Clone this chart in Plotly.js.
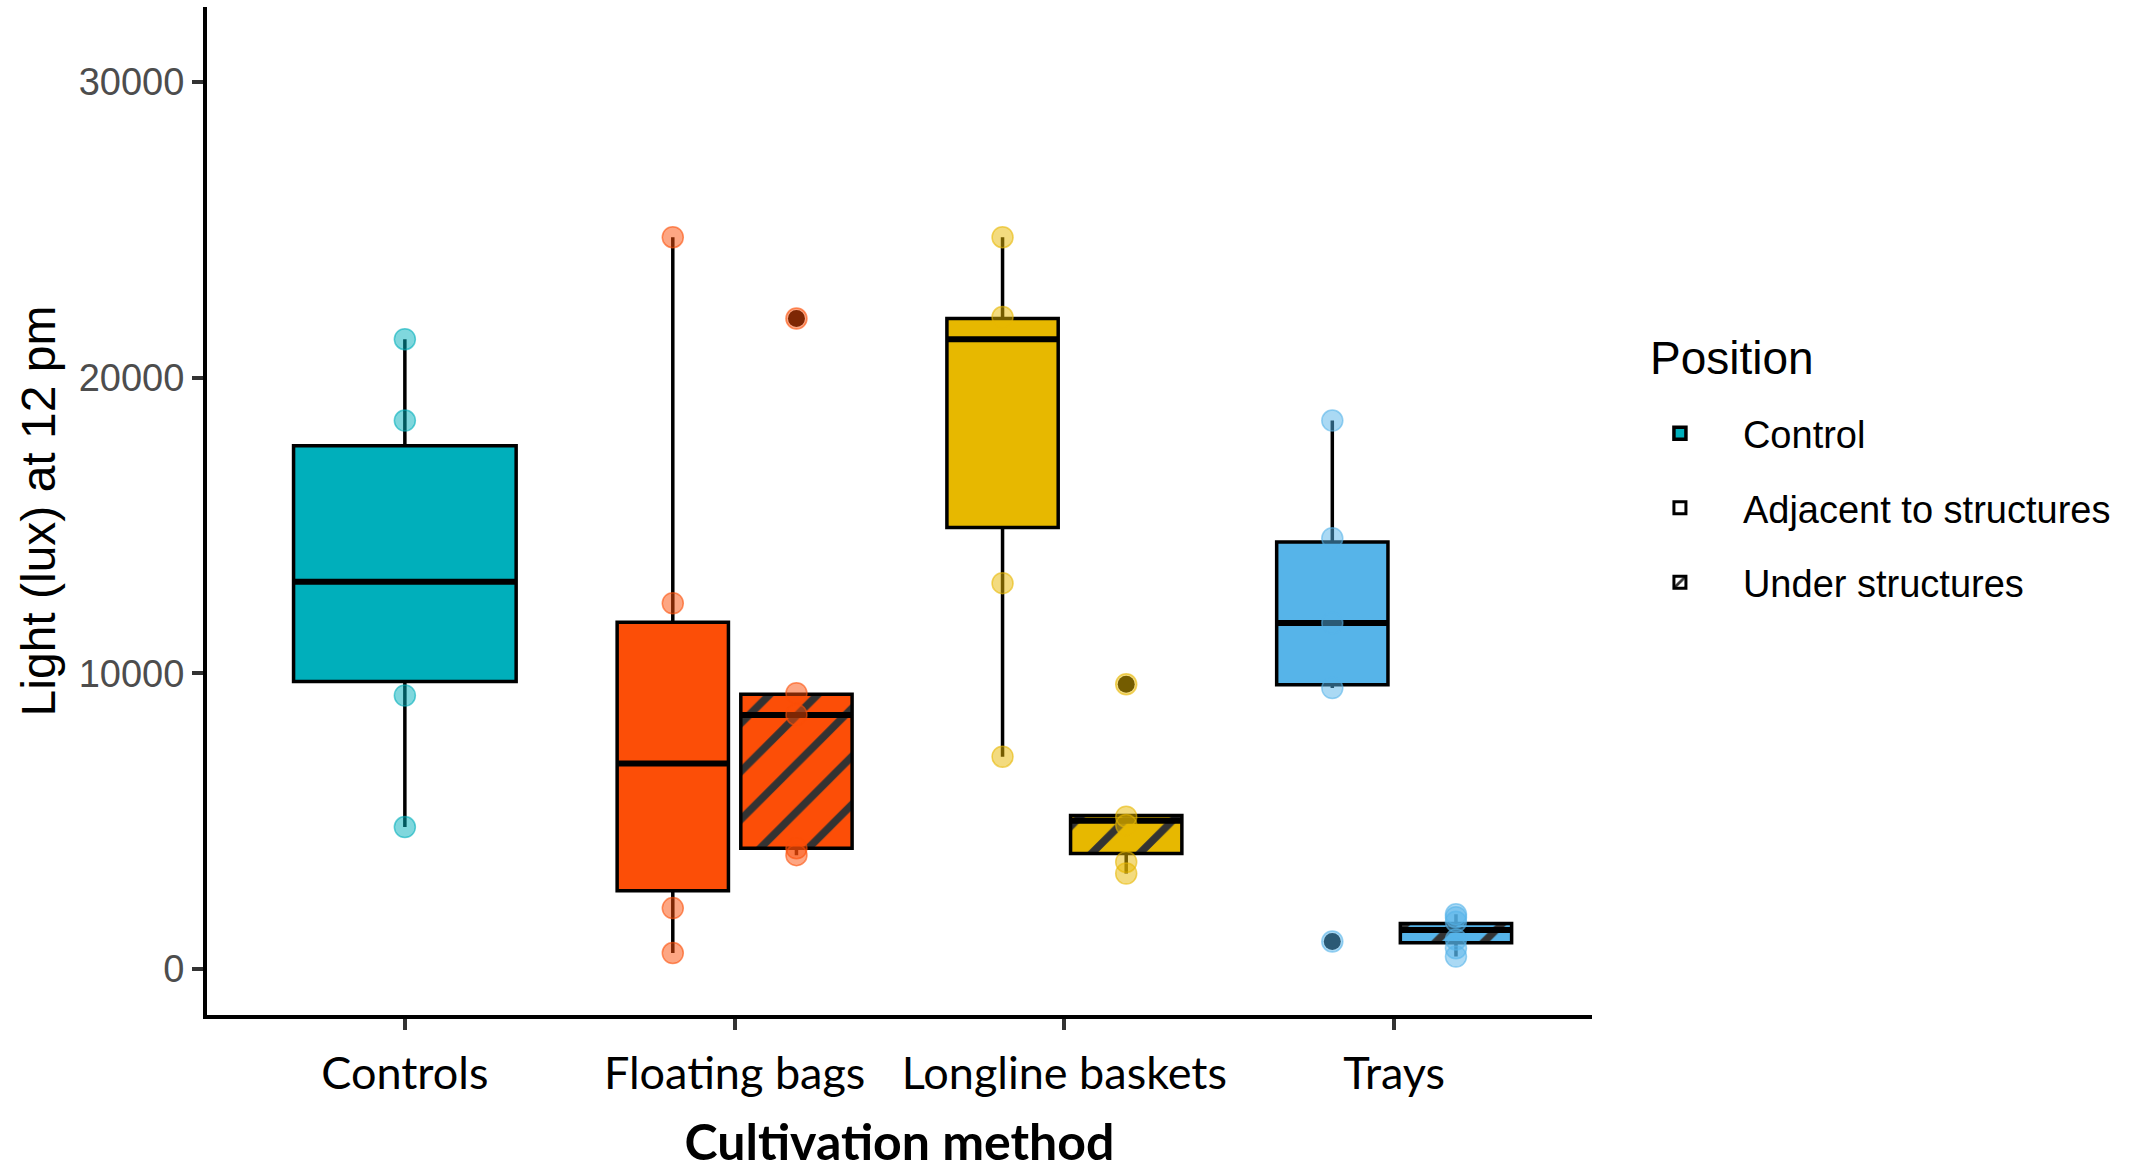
<!DOCTYPE html>
<html><head><meta charset="utf-8">
<script src="https://cdn.plot.ly/plotly-3.0.1.min.js"></script>
<style>html,body{margin:0;padding:0;background:#fff}</style>
</head><body>
<div id="chart" style="width:2143px;height:1171px"></div>
<script>
// ---------------- data ----------------
const categories = ['Controls', 'Floating bags', 'Longline baskets', 'Trays'];
const positions = ['Control', 'Adjacent to structures', 'Under structures'];

const boxCategory = ['Controls', 'Floating bags', 'Floating bags', 'Longline baskets', 'Longline baskets', 'Trays', 'Trays'];
const boxPosition = ['Control', 'Adjacent to structures', 'Under structures', 'Adjacent to structures', 'Under structures', 'Adjacent to structures', 'Under structures'];
const lowerWhisker  = [4800,   540, 3850,  7180, 3230,  9500,  420];
const lowerQuartile = [9720,  2650, 4080, 14930, 3910,  9610,  890];
const medianValue   = [13100, 6950, 8590, 21300, 5010, 11700, 1320];
const upperQuartile = [17700, 11730, 9290, 22000, 5190, 14440, 1540];
const upperWhisker  = [21300, 24750, 9330, 24750, 5190, 18550, 1850];

const pointValues = [
  [21300, 18550, 9250, 4800],
  [24750, 12370, 2060, 540],
  [22000, 9330, 8600, 4080, 3850],
  [24750, 22050, 13050, 7180],
  [9630, 5150, 4870, 3620, 3230],
  [18550, 14570, 11700, 9500, 930],
  [1850, 1750, 1600, 1000, 700, 420]
];

const outlierCategory = ['Floating bags', 'Longline baskets', 'Trays'];
const outlierPosition = ['Under structures', 'Under structures', 'Adjacent to structures'];
const outlierValue = [22000, 9630, 930];

const yTickValues = [0, 10000, 20000, 30000];

// ---------------- styles ----------------
const categoryColor = {
  'Controls': '#00AFBB',
  'Floating bags': '#FC4E07',
  'Longline baskets': '#E7B800',
  'Trays': '#56B4E9'
};
function hexA(hex, a) {
  const r = parseInt(hex.slice(1, 3), 16), g = parseInt(hex.slice(3, 5), 16), b = parseInt(hex.slice(5, 7), 16);
  return 'rgba(' + r + ',' + g + ',' + b + ',' + a + ')';
}
const dodgeWidth = 0.75, boxFrac = 0.9;
function xPos(cat, pos) {
  const i = categories.indexOf(cat);
  if (pos === positions[0]) return i;
  return i + (pos === positions[1] ? -dodgeWidth / 4 : dodgeWidth / 4);
}
function boxW(pos) { return pos === positions[0] ? dodgeWidth * boxFrac : dodgeWidth / 2 * boxFrac; }

const traces = [];

// hatch layer for "Under structures" boxes (bars with pattern, below the box outlines)
boxCategory.forEach((cat, i) => {
  if (boxPosition[i] !== positions[2]) return;
  traces.push({
    type: 'bar', x: [xPos(cat, boxPosition[i])], base: [lowerQuartile[i]],
    y: [upperQuartile[i] - lowerQuartile[i]], width: [boxW(boxPosition[i])],
    marker: { color: categoryColor[cat], line: { width: 0 },
      pattern: { shape: '/', fgcolor: '#333333', bgcolor: categoryColor[cat], size: 34, solidity: 0.22, fillmode: 'replace' } },
    showlegend: false, hoverinfo: 'skip'
  });
});

// boxes
boxCategory.forEach((cat, i) => {
  const pos = boxPosition[i];
  const isUnder = pos === positions[2];
  traces.push({
    type: 'box', name: pos === positions[0] ? 'Control' : cat + ' - ' + pos,
    x: [xPos(cat, pos)],
    q1: [lowerQuartile[i]], median: [medianValue[i]], q3: [upperQuartile[i]],
    lowerfence: [lowerWhisker[i]], upperfence: [upperWhisker[i]],
    width: boxW(pos), whiskerwidth: 0,
    fillcolor: isUnder ? 'rgba(0,0,0,0)' : categoryColor[cat],
    line: { color: '#000000', width: 3.5 },
    showlegend: pos === positions[0], legendgroup: 'g1',
    hoverinfo: 'skip'
  });
});

// legend-only entries (no data drawn)
traces.push({
  type: 'bar', name: 'Adjacent to structures', x: [null], y: [null],
  marker: { color: '#ffffff', line: { color: '#000000', width: 3 } },
  showlegend: true, legendgroup: 'g2', hoverinfo: 'skip'
});
traces.push({
  type: 'bar', name: 'Under structures', x: [null], y: [null],
  marker: { color: '#ffffff', line: { color: '#000000', width: 3 },
    pattern: { shape: '/', fgcolor: '#333333', bgcolor: '#ffffff', size: 14, solidity: 0.35 } },
  showlegend: true, legendgroup: 'g3', hoverinfo: 'skip'
});

// thicker median lines (ggplot fatten)
boxCategory.forEach((cat, i) => {
  const xc = xPos(cat, boxPosition[i]), hw = boxW(boxPosition[i]) / 2;
  traces.push({
    type: 'scatter', mode: 'lines', x: [xc - hw, xc + hw], y: [medianValue[i], medianValue[i]],
    line: { color: '#000000', width: 6 }, showlegend: false, hoverinfo: 'skip'
  });
});

// outliers (black)
traces.push({
  type: 'scatter', mode: 'markers',
  x: outlierCategory.map((c, i) => xPos(c, outlierPosition[i])), y: outlierValue,
  marker: { color: '#000000', size: 17 }, showlegend: false, hoverinfo: 'skip'
});

// raw points (semi-transparent)
boxCategory.forEach((cat, i) => {
  const xc = xPos(cat, boxPosition[i]);
  traces.push({
    type: 'scatter', mode: 'markers',
    x: pointValues[i].map(() => xc), y: pointValues[i],
    marker: { color: hexA(categoryColor[cat], 0.5), size: 21, line: { color: hexA(categoryColor[cat], 0.6), width: 1.5 } },
    showlegend: false, hoverinfo: 'skip'
  });
});

const layout = {
  width: 2143, height: 1171,
  margin: { l: 207, r: 551, t: 7, b: 156, pad: 0 },
  paper_bgcolor: '#ffffff', plot_bgcolor: '#ffffff',
  boxmode: 'overlay', barmode: 'overlay',
  showlegend: true,
  xaxis: {
    type: 'linear', range: [-0.6, 3.6], tickvals: [0, 1, 2, 3], ticktext: categories,
    showgrid: false, zeroline: false, showline: true, linecolor: '#000000', linewidth: 4,
    ticks: 'outside', ticklen: 11, tickwidth: 4, tickcolor: '#333333',
    tickfont: { family: 'Lato, Open Sans, sans-serif', size: 45, color: '#000000' },
    ticklabelstandoff: 5,
    title: { text: 'Cultivation method', font: { family: 'Lato, Open Sans, sans-serif', size: 50, color: '#000000', weight: 'bold' }, standoff: 34 }
  },
  yaxis: {
    range: [-1556, 32536], tickvals: yTickValues, tickformat: 'd',
    showgrid: false, zeroline: false, showline: true, linecolor: '#000000', linewidth: 4,
    ticks: 'outside', ticklen: 11, tickwidth: 4, tickcolor: '#333333',
    tickfont: { family: 'Liberation Sans, Arial, sans-serif', size: 38, color: '#4D4D4D' },
    ticklabelstandoff: 0,
    title: { text: 'Light (lux) at 12 pm', font: { family: 'Liberation Sans, Arial, sans-serif', size: 48, color: '#000000' }, standoff: 9 }
  },
  legend: {
    x: 1.018, xanchor: 'left', y: 0.608, yanchor: 'top',
    font: { family: 'Liberation Sans, Arial, sans-serif', size: 38, color: '#000000' },
    traceorder: 'grouped', tracegroupgap: 22, bgcolor: 'rgba(0,0,0,0)', itemwidth: 116
  },
  annotations: [{
    text: 'Position', xref: 'paper', yref: 'paper', x: 1.0405, xanchor: 'left', y: 0.624, yanchor: 'bottom',
    showarrow: false, font: { family: 'Liberation Sans, Arial, sans-serif', size: 46, color: '#000000' }
  }]
};

Plotly.newPlot('chart', traces, layout, { displayModeBar: false, staticPlot: true });
</script>
</body></html>
